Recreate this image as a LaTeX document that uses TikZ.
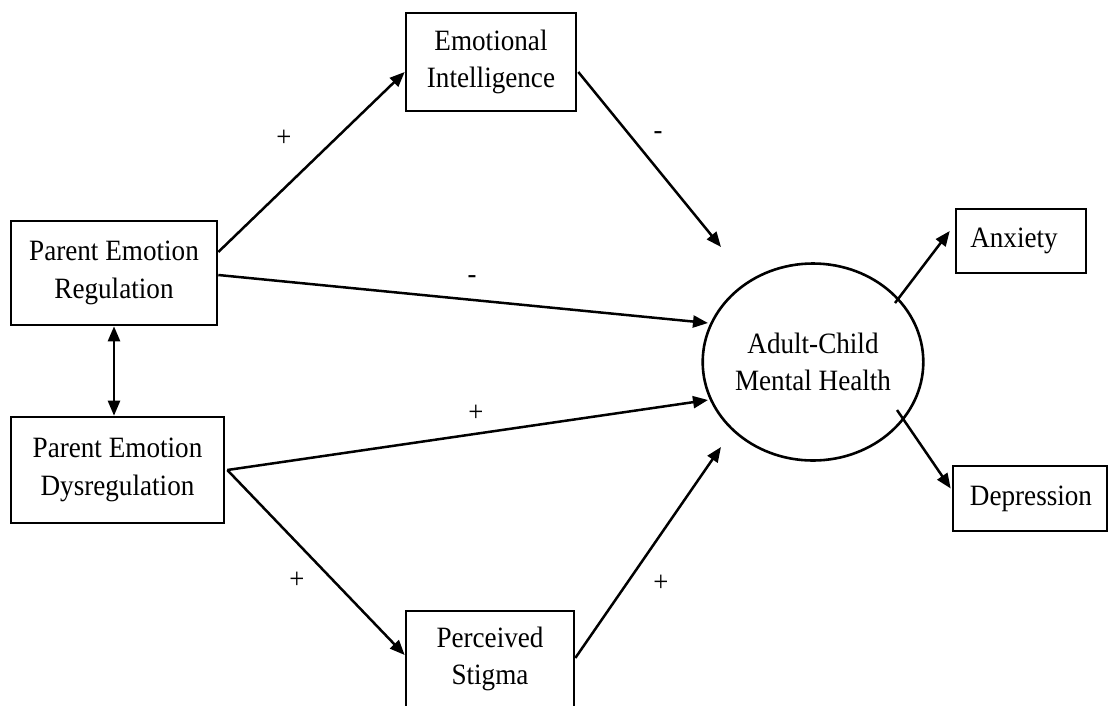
\documentclass[tikz,border=0pt]{standalone}
\usepackage{fontspec}
\setmainfont{Liberation Serif}[FakeStretch=0.92]
\usetikzlibrary{arrows.meta,calc,shapes.geometric}
\begin{document}
\begin{tikzpicture}[x=1pt,y=-1pt,
  box/.style={draw, line width=2.6pt, align=center, inner sep=0pt, font=\fontsize{29.5}{37.5}\selectfont},
  conn/.style={line width=2.5pt, -{Triangle[length=15pt,width=12pt]}},
  lbl/.style={inner sep=0pt, font=\fontsize{29}{30}\selectfont}
]
\useasboundingbox (0,0) rectangle (1108,705);
\node[box, minimum width=206pt, minimum height=104pt] (per) at (114,273) {Parent Emotion\\Regulation};
\node[box, minimum width=213pt, minimum height=106pt] (ped) at (117.5,470) {Parent Emotion\\Dysregulation};
\node[box, minimum width=170pt, minimum height=98pt] (ei) at (491,62) {Emotional\\Intelligence};
\node[box, minimum width=168pt, minimum height=96pt] (ps) at (490,659) {Perceived\\Stigma};
\node[box, ellipse, minimum width=182pt, minimum height=197pt] (mh) at (813,362) {Adult-Child\\Mental Health};
\node[box, minimum width=130pt, minimum height=64pt] (anx) at (1021,241) {\hspace*{-14pt}Anxiety};
\node[box, minimum width=154pt, minimum height=65pt] (dep) at (1030,498.5) {\hspace*{2pt}Depression};

\coordinate (t1) at (721,247);
\coordinate (t2) at (708,323);
\coordinate (t3) at (708,400);
\coordinate (t4) at (721,447);

\draw[line width=2.5pt, {Triangle[length=15pt,width=12pt]}-{Triangle[length=15pt,width=12pt]}] (per.south) -- (per.south |- ped.north);
\draw[conn] ($(per.east)+(0,-21)$) -- ($(ei.west)+(0,10)$);
\draw[conn] ($(ei.east)+(1,10)$) -- (t1);
\draw[conn] ($(per.east)+(0,2)$) -- (t2);
\draw[conn] ($(ped.east)+(2,0)$) -- (t3);
\draw[conn] ($(ped.east)+(2,0)$) -- ($(ps.west)+(0,-4)$);
\draw[conn] ($(ps.east)+(0,-1)$) -- (t4);
\draw[conn] ($(mh.center)+(82,-59)$) -- ($(anx.west)+(-5,-10)$);
\draw[conn] ($(mh.center)+(84,48)$) -- ($(dep.west)+(-1,-10)$);

\node[lbl] (l1) at (284,138) {+};
\node[lbl] (l2) at (658,136) {-};
\node[lbl] (l3) at (472,280) {-};
\node[lbl] (l4) at (476,413) {+};
\node[lbl] (l5) at (297,580) {+};
\node[lbl] (l6) at (661,583) {+};
\end{tikzpicture}
\end{document}
